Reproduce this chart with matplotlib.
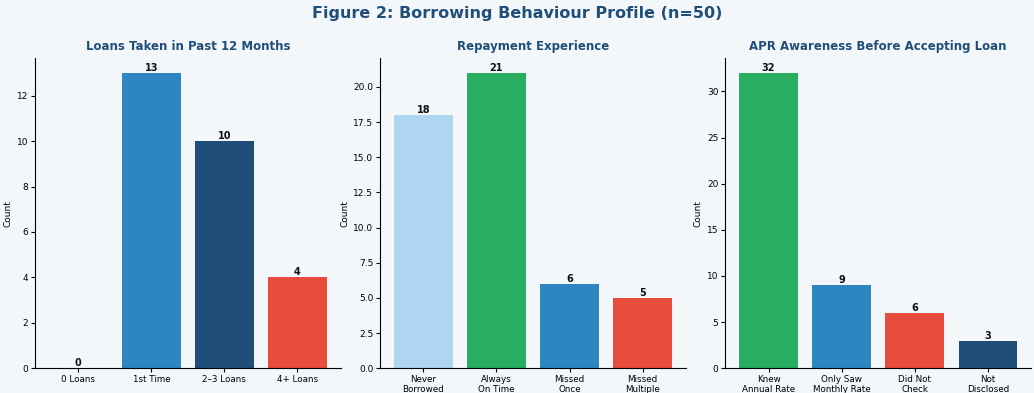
import matplotlib
matplotlib.use('Agg')
import matplotlib.pyplot as plt

# Survey counts (n=50)
loan_labels = ['0 Loans', '1st Time', '2\u20133 Loans', '4+ Loans']
loan_counts = [0, 13, 10, 4]

repay_labels = ['Never\nBorrowed', 'Always\nOn Time', 'Missed\nOnce', 'Missed\nMultiple']
repay_counts = [18, 21, 6, 5]

apr_labels = ['Knew\nAnnual Rate', 'Only Saw\nMonthly Rate', 'Did Not\nCheck', 'Not\nDisclosed']
apr_counts = [32, 9, 6, 3]

navy = '#1f4e79'
blue = '#2e86c1'
light = '#aed6f1'
green = '#27ae60'
red = '#e74c3c'
bg = '#f4f7fa'

loan_colors = [light, blue, navy, red]
repay_colors = [light, green, blue, red]
apr_colors = [green, blue, red, navy]

fig, axes = plt.subplots(1, 3, figsize=(10.34, 3.93), dpi=100)
fig.patch.set_facecolor(bg)

panels = [
    ('Loans Taken in Past 12 Months', loan_labels, loan_counts, loan_colors),
    ('Repayment Experience', repay_labels, repay_counts, repay_colors),
    ('APR Awareness Before Accepting Loan', apr_labels, apr_counts, apr_colors),
]

for ax, (title, labels, counts, colors) in zip(axes, panels):
    ax.set_facecolor(bg)
    bars = ax.bar(range(len(counts)), counts, color=colors, width=0.8)
    for b, v in zip(bars, counts):
        ax.text(b.get_x() + b.get_width() / 2, v, str(v), ha='center', va='bottom',
                fontsize=7, fontweight='bold', color='#111111')
    ax.set_xticks(range(len(labels)))
    ax.set_xticklabels(labels, fontsize=6.3, linespacing=1.05)
    ax.tick_params(axis='x', pad=2, length=3)
    ax.tick_params(axis='y', labelsize=6.5, pad=2, length=3)
    ax.set_ylabel('Count', fontsize=6.5, labelpad=3)
    ax.set_title(title, fontsize=8.5, fontweight='bold', color=navy, pad=6)
    ax.spines['top'].set_visible(False)
    ax.spines['right'].set_visible(False)

fig.suptitle('Figure 2: Borrowing Behaviour Profile (n=50)', fontsize=11.5,
             fontweight='bold', color=navy, y=0.985)
plt.subplots_adjust(left=0.034, right=0.997, top=0.852, bottom=0.063, wspace=0.13)
plt.savefig('out.png', dpi=100, facecolor=bg)
